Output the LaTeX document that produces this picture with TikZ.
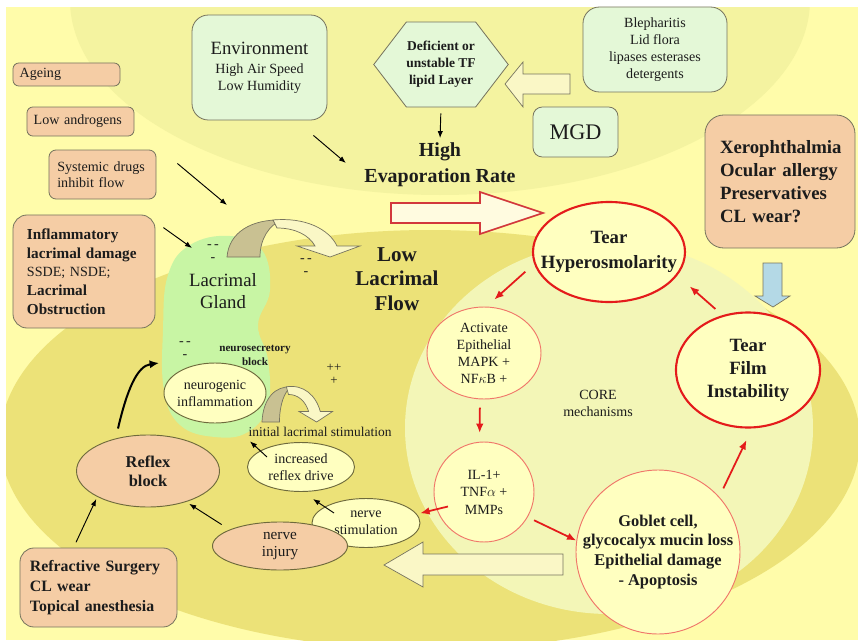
\documentclass[tikz,border=0pt]{standalone}
\usepackage{fontspec}
\setmainfont{Liberation Serif}
\usetikzlibrary{shapes.geometric,shapes.symbols,arrows.meta}

\definecolor{bgyellow}{HTML}{FFFCAA}
\definecolor{topzone}{HTML}{F4F3A0}
\definecolor{lowzone}{HTML}{ECE278}
\definecolor{corezone}{HTML}{F3F6B7}
\definecolor{glandgreen}{HTML}{C8F5A4}
\definecolor{peach}{HTML}{F5CDA5}
\definecolor{mint}{HTML}{E4F8D7}
\definecolor{paleyel}{HTML}{FFFFC0}
\definecolor{edgegrey}{HTML}{77745E}
\definecolor{ovalline}{HTML}{6E6A3C}
\definecolor{darkred}{HTML}{E41B1B}
\definecolor{softred}{HTML}{F0776A}
\definecolor{redline}{HTML}{D2383C}
\definecolor{redfill}{HTML}{FFFBE0}
\definecolor{khaki}{HTML}{C9C192}
\definecolor{lightarrow}{HTML}{FAF7C6}
\definecolor{skyblue}{HTML}{B4D9E6}
\definecolor{txt}{HTML}{1C1C1C}

\newcommand{\fsz}[2]{\fontsize{#1}{#2}\selectfont}

\tikzset{
  peachbox/.style={draw=edgegrey, fill=peach, line width=0.7pt, rounded corners=#1,
    align=left, inner ysep=0pt, text=txt, font=\fsz{12}{14}},
  peachbox/.default=5pt,
  mintbox/.style={draw=edgegrey, fill=mint, line width=0.7pt, rounded corners=#1,
    align=center, inner sep=0pt, text=txt, font=\fsz{12}{14.5}},
  mintbox/.default=12pt,
  hexbox/.style={signal, signal to=east and west, signal pointer angle=105,
    draw=edgegrey, fill=mint, line width=0.7pt, inner sep=0pt, align=center,
    minimum width=3.84cm, minimum height=2.55cm, text=txt,
    font=\bfseries\fsz{11.5}{14.5}},
  redring/.style={ellipse, draw=darkred, line width=1.8pt, fill=paleyel,
    inner sep=0pt, align=center, text=txt, font=\bfseries\fsz{16}{21}},
  thinring/.style={ellipse, draw=softred, line width=0.8pt, fill=paleyel,
    inner sep=0pt, align=center, text=txt, font=\fsz{12}{14.5}},
  paleoval/.style={ellipse, draw=ovalline, line width=0.8pt, fill=paleyel,
    inner sep=0pt, align=center, text=txt, font=\fsz{12}{14.5}},
  peachoval/.style={paleoval, fill=peach},
  plaintext/.style={inner sep=2pt, align=center, text=txt},
  flowarrow/.style={draw=edgegrey, fill=lightarrow, line width=0.6pt},
  blk/.style={-{Latex[length=6pt,width=4.5pt]}, line width=0.8pt},
  redarr/.style={-{Latex[length=8pt,width=6.5pt]}, line width=1.5pt, draw=darkred},
  curvarrow/.pic={
    \filldraw[draw=edgegrey, fill=khaki, line width=0.6pt]
      (0,0) .. controls (2,-25) and (25,-38) .. (55,-37)
      .. controls (42,-32) and (33,-18) .. (33,0) -- cycle;
    \filldraw[draw=edgegrey, fill=lightarrow, line width=0.6pt]
      (46,-37) .. controls (78,-40) and (102,-28) .. (110,-11)
      -- (133,-11) -- (103,0) -- (70,-11) -- (88,-11)
      .. controls (82,-22) and (68,-29) .. (50,-29) -- cycle;
  }
}

\begin{document}
\begin{tikzpicture}[x=0.03cm, y=-0.03cm]
  \useasboundingbox (0,0) rectangle (858,643);
  % background zones
  \begin{scope}
    \clip (6,7) rectangle (858,640);
    \fill[bgyellow] (6,7) rectangle (858,640);
    \fill[topzone] (440,0) ellipse [x radius=370, y radius=195];
    \fill[lowzone] (430,440) ellipse [x radius=430, y radius=210];
    \fill[corezone] (609,428) ellipse [x radius=204, y radius=186];
  \end{scope}
  \fill[glandgreen] plot[smooth cycle, tension=0.7] coordinates
    {(190,245) (230,236) (262,250) (270,290) (258,325) (268,360) (268,405)
     (248,432) (215,437) (180,425) (164,390) (163,330) (168,275)};

  % block arrows
  \filldraw[flowarrow] (505,84) -- (523,62) -- (523,74) -- (570,74)
    -- (570,94) -- (523,94) -- (523,107) -- cycle;
  \filldraw[draw=redline, fill=redfill, line width=1.4pt] (391,203) -- (480,203)
    -- (480,192) -- (543,213) -- (480,234) -- (480,223) -- (391,223) -- cycle;
  \filldraw[draw=edgegrey, fill=skyblue, line width=0.6pt] (763,263) -- (782,263)
    -- (782,296) -- (790,296) -- (773,307) -- (755,296) -- (763,296) -- cycle;
  \filldraw[flowarrow] (384,565) -- (423,542) -- (423,554) -- (563,554)
    -- (563,575) -- (423,575) -- (423,587) -- cycle;
  \pic at (227,257) {curvarrow};
  \pic[xscale=0.53, yscale=0.95] at (262,422) {curvarrow};

  % causes
  \node[peachbox, inner xsep=0.2cm, text width=2.81cm, minimum height=0.69cm]
    (ageing) at (66.5,74.5) {Ageing};
  \node[peachbox, inner xsep=0.2cm, text width=2.81cm, minimum height=0.87cm]
    (andro) at (80.5,121.5) {Low androgens};
  \node[peachbox=6pt, inner xsep=0.25cm, text width=2.71cm, minimum height=1.47cm]
    (sysdrug) at (102.5,174.5) {Systemic drugs\\inhibit flow};
  \node[peachbox=12pt, inner xsep=0.42cm, text width=3.42cm, minimum height=3.39cm,
    font=\fsz{12}{16}] (inflam) at (84,271.5)
    {{\bfseries\fsz{13}{16}Inflammatory}\\{\bfseries\fsz{13}{16}lacrimal damage}\\
     SSDE; NSDE;\\{\bfseries\fsz{13}{16}Lacrimal}\\{\bfseries\fsz{13}{16}Obstruction}};
  \node[peachbox=12pt, inner xsep=0.3cm, text width=4.11cm, minimum height=2.37cm,
    font=\bfseries\fsz{13.5}{17}] (refract) at (98.5,587.5)
    {Refractive Surgery\\CL wear\\Topical anesthesia};
  \node[peachbox=16pt, inner xsep=0.45cm, text width=3.6cm, minimum height=3.99cm,
    font=\bfseries\fsz{16}{19.6}] (xero) at (780,181.5)
    {Xerophthalmia\\Ocular allergy\\Preservatives\\CL wear?};
  \node[mintbox=14pt, minimum width=4.05cm, minimum height=3.15cm] (env) at (259.5,67.5)
    {{\fsz{16}{20}Environment}\\[2pt]High Air Speed\\Low Humidity};
  \node[mintbox=14pt, minimum width=4.32cm, minimum height=2.55cm] (bleph) at (655,49.5)
    {Blepharitis\\Lid flora\\lipases esterases\\detergents};
  \node[mintbox=8pt, minimum width=2.55cm, minimum height=1.5cm, font=\fsz{19}{22}]
    (mgd) at (575.5,132) {MGD};
  \node[hexbox] (hex) at (441,64.5) {Deficient or\\unstable TF\\lipid Layer};
  \node[plaintext, font=\bfseries\fsz{17}{22}] (evap) at (440,165) {High\\Evaporation Rate};

  % core cycle
  \node[redring, inner xsep=-14pt, minimum width=4.56cm, minimum height=3cm]
    (hyper) at (609,252) {Tear\\Hyperosmolarity};
  \node[redring, minimum width=4.32cm, minimum height=3.45cm, font=\bfseries\fsz{16}{19.6}]
    (film) at (748,370) {Tear\\Film\\Instability};
  \node[thinring, inner ysep=-2pt, minimum width=3.42cm, minimum height=2.76cm]
    (activ) at (484,353) {Activate\\Epithelial\\MAPK +\\NF$\kappa$B +};
  \node[thinring, minimum width=3cm, minimum height=3cm, font=\fsz{12}{15}]
    (il) at (484,492) {IL-1+\\TNF$\alpha$ +\\MMPs};
  \node[thinring, inner xsep=-17pt, minimum width=4.92cm, minimum height=4.92cm,
    font=\bfseries\fsz{14}{17}] (goblet) at (658,552)
    {Goblet cell,\\glycocalyx mucin loss\\Epithelial damage\\- Apoptosis};
  \node[plaintext, font=\fsz{12}{14.5}] (core) at (598,403) {CORE\\mechanisms};

  % lacrimal side
  \node[plaintext, font=\fsz{16}{19}] (gland) at (223,291) {Lacrimal\\Gland};
  \node[plaintext, font=\bfseries\fsz{18}{21}] (lowflow) at (397,279) {Low\\Lacrimal\\Flow};
  \node[plaintext, font=\bfseries\fsz{9.5}{12}] (neurosec) at (255,355) {neurosecretory\\block};
  \node[plaintext, font=\fsz{11.5}{13}] (initstim) at (320,432) {initial lacrimal stimulation};
  \node[plaintext, font=\fsz{12}{11}] (minA) at (213,253) {-\,-\\-};
  \node[plaintext, font=\fsz{12}{11}] (minB) at (306,267) {-\,-\\-};
  \node[plaintext, font=\fsz{12}{11}] (minC) at (185,350) {-\,-\\-};
  \node[plaintext, font=\fsz{11}{11}] (plus) at (334,374) {++\\+};
  \node[paleoval, inner xsep=-3pt, minimum width=3.06cm, minimum height=1.8cm]
    (neuro) at (215,393) {neurogenic\\inflammation};
  \node[paleoval, minimum width=3.21cm, minimum height=1.47cm]
    (incr) at (301,467) {increased\\reflex drive};
  \node[paleoval, minimum width=3.24cm, minimum height=1.47cm]
    (stim) at (366,523) {nerve\\stimulation};
  \node[peachoval, minimum width=4.05cm, minimum height=1.44cm, font=\fsz{13}{14.5}]
    (injury) at (280,546) {nerve\\injury};
  \node[peachoval, minimum width=4.29cm, minimum height=2.16cm, font=\bfseries\fsz{14}{16}]
    (reflex) at (148,471) {Reflex\\block};

  % connectors
  \coordinate (glandA) at (227,205);
  \coordinate (glandB) at (192,248);
  \coordinate (glandC) at (159,363);
  \draw[blk] ([shift={(21,-11)}]sysdrug.east) -- (glandA);
  \draw[blk] ([shift={(8,13)}]inflam.north east) -- (glandB);
  \draw[line width=1.7pt, -{Latex[length=8pt,width=7pt]}] ([shift={(-30,-6)}]reflex.north)
    .. controls (127,390) and (137,366) .. (glandC);
  \draw[blk] ([shift={(-14,15)}]env.south east) -- ([shift={(-16,-2)}]evap.west);
  \draw[blk, shorten <=5pt, shorten >=2pt] (hex.south) -- (evap.north);
  \draw[blk, shorten <=5pt, shorten >=2pt] (refract.122) -- (reflex.207);
  \draw[blk, shorten <=8pt, shorten >=3pt] (injury.162) -- (reflex.-39);
  \draw[blk] ([shift={(-32,-10)}]stim.center) -- ([shift={(12,32)}]incr.center);
  \draw[blk] ([shift={(-34,-10)}]incr.center) -- ([shift={(4,2)}]initstim.south west);
  \draw[redarr, shorten <=10pt, shorten >=9pt] (hyper.189) -- (activ.87);
  \draw[redarr, shorten <=7pt, shorten >=7.5pt] (activ.265) -- (il.95);
  \draw[redarr, shorten <=-10pt, shorten >=3pt] (il.200) -- (stim.10);
  \draw[redarr, shorten <=6pt] (il.-30) -- (goblet.172);
  \draw[redarr, shorten <=8pt, shorten >=11pt] (goblet.42) -- (film.274);
  \draw[redarr, shorten <=8pt, shorten >=14pt] (film.115) -- (hyper.-19);
\end{tikzpicture}
\end{document}
